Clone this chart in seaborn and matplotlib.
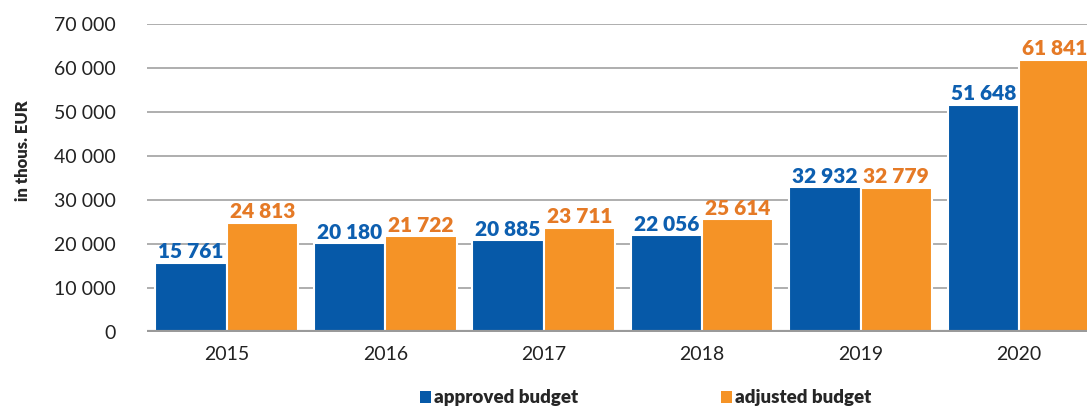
import pandas as pd
import matplotlib.pyplot as plt
import seaborn as sns
from matplotlib.patches import Patch

# === Данные ===
years = ['2015', '2016', '2017', '2018', '2019', '2020']
approved = [15761, 20180, 20885, 22056, 32932, 51648]
adjusted = [24813, 21722, 23711, 25614, 32779, 61841]
series_names = ['approved budget', 'adjusted budget']

bar_colors = ['#0659a8', '#f59326']
label_colors = ['#0d5fb0', '#e57a26']

df = pd.DataFrame({
    'year': years * 2,
    'value': approved + adjusted,
    'budget': [series_names[0]] * len(years) + [series_names[1]] * len(years),
})

sns.set_style('white')
plt.rcParams['font.family'] = ['Lato', 'DejaVu Sans']

fig = plt.figure(figsize=(10.87, 4.11), dpi=100)
ax = fig.add_axes([0.135, 0.192, 0.865, 0.750])

sns.barplot(data=df, x='year', y='value', hue='budget', palette=bar_colors,
            width=0.9, edgecolor='white', linewidth=1.5, saturation=1,
            legend=False, ax=ax, zorder=3)

for cont, col in zip(ax.containers, label_colors):
    ax.bar_label(cont, labels=[f'{int(v):,}'.replace(',', ' ') for v in cont.datavalues],
                 color=col, fontsize=15, fontweight='heavy', padding=1)

ax.set_ylim(0, 70000)
ax.set_xlim(-0.505, 5.429)
ax.set_yticks(range(0, 70001, 10000))
ax.set_yticklabels([f'{v:,}'.replace(',', ' ') for v in range(0, 70001, 10000)])
ax.grid(axis='y', color='#a8a8a8', linewidth=1.3, zorder=0)
ax.axhline(0, color='#9a9a9a', linewidth=3, zorder=4)
for s in ax.spines.values():
    s.set_visible(False)

ax.tick_params(axis='y', length=0, pad=22, labelsize=14, labelcolor='#222222')
ax.tick_params(axis='x', length=0, pad=10, labelsize=14, labelcolor='#222222')
ax.set_xlabel('')
ax.set_ylabel('in thous. EUR', fontsize=12, fontweight='heavy', labelpad=0)
ax.yaxis.set_label_coords(-0.123, 0.59)

handles = [Patch(facecolor=c, edgecolor='none') for c in bar_colors]
leg = fig.legend(handles, series_names, loc='lower left', bbox_to_anchor=(0.371, -0.03),
                 ncol=2, frameon=False, handlelength=0.6, handleheight=0.6,
                 handletextpad=0.15, columnspacing=7.6,
                 prop={'weight': 'heavy', 'size': 13.5})

plt.savefig('out.png', dpi=100)
plt.close()
